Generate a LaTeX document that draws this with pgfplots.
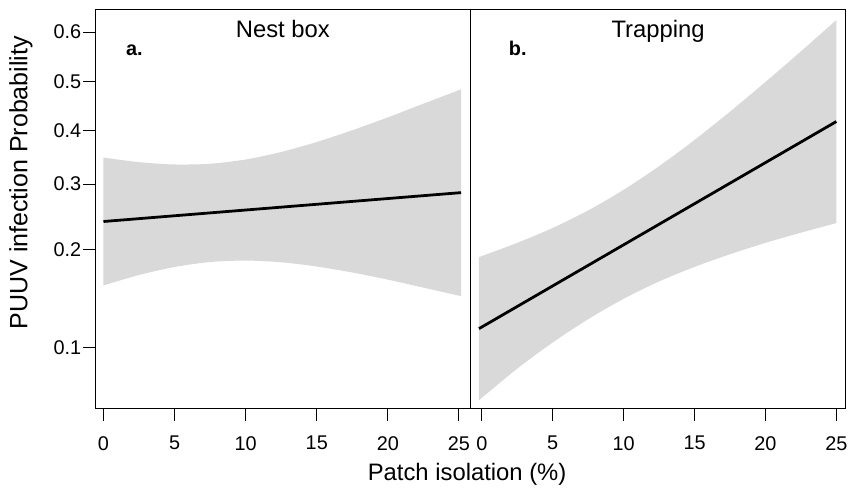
\documentclass[border=0pt]{standalone}
\usepackage{fontspec}
\setmainfont{Liberation Sans}
\usepackage{pgfplots}
\pgfplotsset{compat=1.18}
\usepgfplotslibrary{fillbetween}

% y values are on the logit scale: logit(p) = ln(p/(1-p))
\pgfplotsset{
  panel/.style={
    scale only axis, width=189.15pt, height=201.5pt,
    ymin=-2.7009, ymax=0.5935,
    xtick={0,5,10,15,20,25},
    tick align=outside, xtick pos=bottom, ytick pos=left,
    major tick length=6pt,
    tick style={black, line width=0.5pt},
    axis line style={black, line width=0.5pt},
    tick label style={font=\fontsize{10}{12}\selectfont},
    xticklabel style={yshift=-4.2pt},
    yticklabel style={xshift=2.5pt},
    /pgf/number format/assume math mode=true,
    title style={at={(axis description cs:0.5,1)}, anchor=base, yshift=-20.5pt, font=\fontsize{12}{14}\selectfont},
  }
}

\begin{document}
\begin{tikzpicture}
\begin{axis}[panel,
  at={(48pt,38.35pt)}, anchor=south west,
  xmin=-0.58, xmax=25.81,
  ytick={-2.1972,-1.3863,-0.8473,-0.4055,0,0.4055},
  yticklabels={0.1,0.2,0.3,0.4,0.5,0.6},
  title={Nest box},
  ylabel={PUUV infection Probability},
  ylabel style={at={(axis description cs:-0.1983,0.566)}, anchor=center, font=\fontsize{12.6}{14}\selectfont},
  xlabel={Patch isolation (\%)},
  xlabel style={at={(axis description cs:0.991,0)}, anchor=base, yshift=-35.85pt, font=\fontsize{12}{14}\selectfont},
]
\addplot[draw=none, name path=upA, smooth] coordinates {(0,-0.629) (2.5,-0.667) (5,-0.686) (7.5,-0.680) (10,-0.645) (12.5,-0.583) (15,-0.501) (17.5,-0.404) (20,-0.298) (22.5,-0.185) (25.15,-0.067)};
\addplot[draw=none, name path=loA, smooth] coordinates {(0,-1.683) (2.5,-1.597) (5,-1.531) (7.5,-1.490) (10,-1.478) (12.5,-1.492) (15,-1.527) (17.5,-1.576) (20,-1.635) (22.5,-1.701) (25.15,-1.771)};
\addplot[fill=gray!30, draw=none] fill between[of=upA and loA];
\addplot[black, line width=1.4pt] coordinates {(0,-1.156) (25.15,-0.918)};
\node[anchor=base west, xshift=15.35pt, yshift=-23.5pt, inner sep=0pt, font=\bfseries\fontsize{10}{12}\selectfont] at (rel axis cs:0,1) {a.};
\end{axis}
\begin{axis}[panel,
  at={(237.15pt,38.35pt)}, anchor=south west,
  xmin=-0.80, xmax=25.66,
  ytick=\empty,
  title={Trapping},
]
\addplot[draw=none, name path=upB, smooth] coordinates {(-0.2,-1.449) (2.5,-1.332) (5,-1.209) (7.5,-1.065) (10,-0.895) (12.5,-0.700) (15,-0.484) (17.5,-0.251) (20,-0.006) (22.5,0.246) (25,0.505)};
\addplot[draw=none, name path=loB, smooth] coordinates {(-0.2,-2.629) (2.5,-2.368) (5,-2.153) (7.5,-1.961) (10,-1.793) (12.5,-1.650) (15,-1.530) (17.5,-1.426) (20,-1.332) (22.5,-1.248) (25,-1.169)};
\addplot[fill=gray!30, draw=none] fill between[of=upB and loB];
\addplot[black, line width=1.4pt] coordinates {(-0.2,-2.039) (25,-0.332)};
\node[anchor=base west, xshift=19.2pt, yshift=-23.5pt, inner sep=0pt, font=\bfseries\fontsize{10}{12}\selectfont] at (rel axis cs:0,1) {b.};
\end{axis}
\path (0,0) rectangle (427pt,244.5pt);
\end{tikzpicture}
\end{document}
